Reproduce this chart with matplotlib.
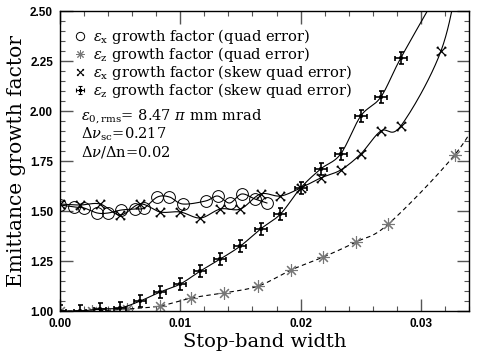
import numpy as np
import matplotlib
matplotlib.use("Agg")
import matplotlib.pyplot as plt
from matplotlib.path import Path
from matplotlib.lines import Line2D
from matplotlib.ticker import MultipleLocator, FormatStrFormatter

plt.rcParams['font.family'] = ['DejaVu Serif']
plt.rcParams['mathtext.fontset'] = 'dejavuserif'

# ---- data ----
x_quad_x = [0.0, 0.0012, 0.0020, 0.0031, 0.0040, 0.0051, 0.0062, 0.0070, 0.0081, 0.0091,
            0.0102, 0.0121, 0.0131, 0.0141, 0.0151, 0.0162, 0.0172]
y_quad_x = [1.53, 1.52, 1.515, 1.49, 1.49, 1.505, 1.51, 1.515, 1.57, 1.57,
            1.535, 1.55, 1.575, 1.54, 1.585, 1.56, 1.54]

x_quad_z = [0.0, 0.0027, 0.0056, 0.0083, 0.0109, 0.0136, 0.0165, 0.0192, 0.0219, 0.0246,
            0.0273, 0.0328, 0.0355]
y_quad_z = [1.00, 1.00, 1.01, 1.025, 1.065, 1.09, 1.125, 1.205, 1.27, 1.345,
            1.435, 1.78, 2.04]

x_skew_x = [0.0, 0.00167, 0.00333, 0.0050, 0.00667, 0.00833, 0.0100, 0.01167, 0.01333, 0.0150,
            0.01667, 0.01833, 0.0200, 0.02167, 0.02333, 0.0250, 0.02667, 0.02833, 0.03167, 0.0334]
y_skew_x = [1.535, 1.53, 1.535, 1.48, 1.535, 1.495, 1.495, 1.465, 1.51, 1.51,
            1.585, 1.575, 1.615, 1.665, 1.705, 1.785, 1.90, 1.925, 2.30, 2.75]

x_skew_z = [0.0, 0.00167, 0.00333, 0.0050, 0.00667, 0.00833, 0.0100, 0.01167, 0.01333, 0.0150,
            0.01667, 0.01833, 0.0200, 0.02167, 0.02333, 0.0250, 0.02667, 0.02833, 0.03167]
y_skew_z = [1.00, 1.00, 1.01, 1.015, 1.05, 1.095, 1.135, 1.20, 1.26, 1.325,
            1.41, 1.485, 1.615, 1.71, 1.785, 1.975, 2.07, 2.265, 2.62]

labels = [r"$\epsilon_{\mathrm{x}}$ growth factor (quad error)",
          r"$\epsilon_{\mathrm{z}}$ growth factor (quad error)",
          r"$\epsilon_{\mathrm{x}}$ growth factor (skew quad error)",
          r"$\epsilon_{\mathrm{z}}$ growth factor (skew quad error)"]
notes = [r"$\epsilon_{0,\mathrm{rms}}$= 8.47 $\pi$ mm mrad",
         r"$\Delta\nu_{\mathrm{sc}}$=0.217",
         r"$\Delta\nu/\Delta$n=0.02"]
xlabel = "Stop-band width"
ylabel = "Emittance growth factor"


def smooth(x, y, n=24):
    pts = np.column_stack([x, y]).astype(float)
    P = np.vstack([2 * pts[0] - pts[1], pts, 2 * pts[-1] - pts[-2]])
    t = np.linspace(0, 1, n, endpoint=False)[:, None]
    out = []
    for i in range(1, len(P) - 2):
        p0, p1, p2, p3 = P[i - 1], P[i], P[i + 1], P[i + 2]
        seg = 0.5 * (2 * p1 + (-p0 + p2) * t + (2 * p0 - 5 * p1 + 4 * p2 - p3) * t ** 2
                     + (-p0 + 3 * p1 - 3 * p2 + p3) * t ** 3)
        out.append(seg)
    out.append(pts[-1:])
    a = np.vstack(out)
    return a[:, 0], a[:, 1]


def cross_caps():
    c = 0.45
    v = [(0, -1), (0, 1), (-c, 1), (c, 1), (-c, -1), (c, -1),
         (-1, 0), (1, 0), (-1, -c), (-1, c), (1, -c), (1, c),
         (-0.25, -0.25), (0.25, -0.25), (0.25, 0.25), (-0.25, 0.25), (-0.25, -0.25)]
    codes = [Path.MOVETO, Path.LINETO] * 6 + [Path.MOVETO] + [Path.LINETO] * 4
    return Path(v, codes)


def x_serif():
    s = 0.3
    v = [(-1, -1), (1, 1), (-1, 1), (1, -1)]
    codes = [Path.MOVETO, Path.LINETO, Path.MOVETO, Path.LINETO]
    for (a, b) in [(1, 1), (-1, 1), (1, -1), (-1, -1)]:
        px, py = -b, a
        n = np.hypot(px, py)
        px, py = px / n * s, py / n * s
        v += [(a - px, b - py), (a + px, b + py)]
        codes += [Path.MOVETO, Path.LINETO]
    return Path(v, codes)


m_cross = cross_caps()
m_x = x_serif()
m_star = (8, 2, 0)

fig = plt.figure(figsize=(4.8, 3.58), dpi=100)
ax = fig.add_axes([60 / 480, 47 / 358, 409 / 480, 300 / 358])

lw = 0.8
sx, sy = smooth(x_quad_x, y_quad_x)
ax.plot(sx, sy, color='black', lw=lw)
ax.plot(x_quad_x, y_quad_x, ls='none', marker='o', ms=8.5, mfc='none', mec='black', mew=0.7)

sx, sy = smooth(x_quad_z, y_quad_z)
ax.plot(sx, sy, color='black', lw=lw, ls=(0, (4, 3)))
ax.plot(x_quad_z, y_quad_z, ls='none', marker=m_star, ms=9, mfc='none', mec='#777777', mew=0.8)

sx, sy = smooth(x_skew_x, y_skew_x)
ax.plot(sx, sy, color='black', lw=lw)
ax.plot(x_skew_x, y_skew_x, ls='none', marker=m_x, ms=7, mfc='none', mec='black', mew=0.9)

sx, sy = smooth(x_skew_z, y_skew_z)
ax.plot(sx, sy, color='black', lw=lw)
ax.plot(x_skew_z, y_skew_z, ls='none', marker=m_cross, ms=8, mfc='none', mec='black', mew=1.2)

ax.set_xlim(0, 0.034)
ax.set_ylim(1.0, 2.5)

ax.xaxis.set_major_locator(MultipleLocator(0.01))
ax.xaxis.set_minor_locator(MultipleLocator(0.002))
ax.yaxis.set_major_locator(MultipleLocator(0.25))
ax.yaxis.set_minor_locator(MultipleLocator(0.05))
ax.xaxis.set_major_formatter(FormatStrFormatter('%.2f'))
ax.yaxis.set_major_formatter(FormatStrFormatter('%.2f'))
ax.tick_params(which='both', direction='in', top=True, right=True, color='#555555')
ax.tick_params(which='major', length=9, width=1.0)
ax.tick_params(which='minor', length=3.5, width=0.8)
ax.tick_params(axis='x', which='major', pad=5)
ax.tick_params(axis='y', which='major', pad=5)
for lab in ax.get_xticklabels() + ax.get_yticklabels():
    lab.set_fontfamily('Liberation Sans')
    lab.set_fontsize(8.5)
    lab.set_fontweight('bold')
for sp in ax.spines.values():
    sp.set_linewidth(1.0)

ax.set_xlabel(xlabel, fontsize=14, labelpad=2)
ax.set_ylabel(ylabel, fontsize=14.5, labelpad=3)

handles = [
    Line2D([], [], ls='none', marker='o', ms=6, mfc='none', mec='black', mew=0.7),
    Line2D([], [], ls='none', marker=m_star, ms=6, mfc='none', mec='#777777', mew=0.7),
    Line2D([], [], ls='none', marker=m_x, ms=5, mfc='none', mec='black', mew=0.8),
    Line2D([], [], ls='none', marker=m_cross, ms=6, mfc='none', mec='black', mew=0.8),
]
ax.legend(handles, labels, loc='upper left', bbox_to_anchor=(0.035, 0.945), frameon=False,
          fontsize=10.5, handlelength=0.8, handletextpad=0.45, labelspacing=-0.07,
          borderaxespad=0, borderpad=0)

for i, t in enumerate(notes):
    ax.text(0.051, 0.647 - i * 0.058, t, transform=ax.transAxes, fontsize=10.5,
            va='center', ha='left')

fig.savefig('out.png', dpi=100)
